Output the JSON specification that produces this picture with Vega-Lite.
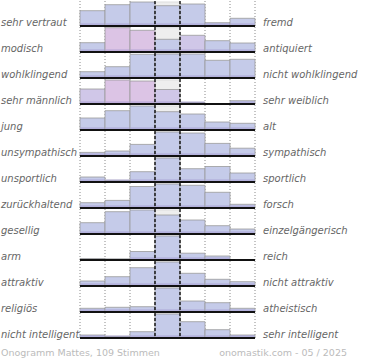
{
  "$schema": "https://vega.github.io/schema/vega-lite/v6.json",
  "padding": {"left": 1, "top": 0, "right": 5, "bottom": 0},
  "background": "white",
  "bounds": "flush",
  "data": {"values": [
      {"r":1,"links":"sehr vertraut","rechts":"fremd","k":1,"n":15.3,"g":"m"},{"r":1,"links":"sehr vertraut","rechts":"fremd","k":2,"n":21.3,"g":"m"},{"r":1,"links":"sehr vertraut","rechts":"fremd","k":3,"n":24,"g":"m"},{"r":1,"links":"sehr vertraut","rechts":"fremd","k":4,"n":20.3,"g":"m"},{"r":1,"links":"sehr vertraut","rechts":"fremd","k":5,"n":22,"g":"m"},{"r":1,"links":"sehr vertraut","rechts":"fremd","k":6,"n":3.3,"g":"m"},{"r":1,"links":"sehr vertraut","rechts":"fremd","k":7,"n":7.7,"g":"m"},
      {"r":2,"links":"modisch","rechts":"antiquiert","k":1,"n":9.3,"g":"m"},{"r":2,"links":"modisch","rechts":"antiquiert","k":2,"n":24.3,"g":"w"},{"r":2,"links":"modisch","rechts":"antiquiert","k":3,"n":21.7,"g":"w"},{"r":2,"links":"modisch","rechts":"antiquiert","k":4,"n":12.7,"g":"m"},{"r":2,"links":"modisch","rechts":"antiquiert","k":5,"n":16.7,"g":"x"},{"r":2,"links":"modisch","rechts":"antiquiert","k":6,"n":11.3,"g":"m"},{"r":2,"links":"modisch","rechts":"antiquiert","k":7,"n":9,"g":"m"},
      {"r":3,"links":"wohlklingend","rechts":"nicht wohlklingend","k":1,"n":6.3,"g":"m"},{"r":3,"links":"wohlklingend","rechts":"nicht wohlklingend","k":2,"n":11.3,"g":"m"},{"r":3,"links":"wohlklingend","rechts":"nicht wohlklingend","k":3,"n":23.7,"g":"m"},{"r":3,"links":"wohlklingend","rechts":"nicht wohlklingend","k":4,"n":24,"g":"m"},{"r":3,"links":"wohlklingend","rechts":"nicht wohlklingend","k":5,"n":24,"g":"m"},{"r":3,"links":"wohlklingend","rechts":"nicht wohlklingend","k":6,"n":17.7,"g":"m"},{"r":3,"links":"wohlklingend","rechts":"nicht wohlklingend","k":7,"n":18.7,"g":"m"},
      {"r":4,"links":"sehr männlich","rechts":"sehr weiblich","k":1,"n":15,"g":"x"},{"r":4,"links":"sehr männlich","rechts":"sehr weiblich","k":2,"n":24,"g":"w"},{"r":4,"links":"sehr männlich","rechts":"sehr weiblich","k":3,"n":23,"g":"w"},{"r":4,"links":"sehr männlich","rechts":"sehr weiblich","k":4,"n":14.5,"g":"x"},{"r":4,"links":"sehr männlich","rechts":"sehr weiblich","k":5,"n":1.6,"g":"m"},{"r":4,"links":"sehr männlich","rechts":"sehr weiblich","k":6,"n":0,"g":"m"},{"r":4,"links":"sehr männlich","rechts":"sehr weiblich","k":7,"n":3.3,"g":"m"},
      {"r":5,"links":"\u00a0jung","rechts":"alt","k":1,"n":12,"g":"m"},{"r":5,"links":"\u00a0jung","rechts":"alt","k":2,"n":19.3,"g":"m"},{"r":5,"links":"\u00a0jung","rechts":"alt","k":3,"n":24,"g":"m"},{"r":5,"links":"\u00a0jung","rechts":"alt","k":4,"n":18.3,"g":"m"},{"r":5,"links":"\u00a0jung","rechts":"alt","k":5,"n":16,"g":"m"},{"r":5,"links":"\u00a0jung","rechts":"alt","k":6,"n":8,"g":"m"},{"r":5,"links":"\u00a0jung","rechts":"alt","k":7,"n":6.7,"g":"m"},
      {"r":6,"links":"unsympathisch","rechts":"sympathisch","k":1,"n":3.6,"g":"m"},{"r":6,"links":"unsympathisch","rechts":"sympathisch","k":2,"n":5,"g":"m"},{"r":6,"links":"unsympathisch","rechts":"sympathisch","k":3,"n":11.6,"g":"m"},{"r":6,"links":"unsympathisch","rechts":"sympathisch","k":4,"n":24,"g":"m"},{"r":6,"links":"unsympathisch","rechts":"sympathisch","k":5,"n":23,"g":"m"},{"r":6,"links":"unsympathisch","rechts":"sympathisch","k":6,"n":12.6,"g":"m"},{"r":6,"links":"unsympathisch","rechts":"sympathisch","k":7,"n":7.8,"g":"m"},
      {"r":7,"links":"unsportlich","rechts":"sportlich","k":1,"n":5,"g":"m"},{"r":7,"links":"unsportlich","rechts":"sportlich","k":2,"n":1.7,"g":"m"},{"r":7,"links":"unsportlich","rechts":"sportlich","k":3,"n":10.3,"g":"m"},{"r":7,"links":"unsportlich","rechts":"sportlich","k":4,"n":24,"g":"m"},{"r":7,"links":"unsportlich","rechts":"sportlich","k":5,"n":13.3,"g":"m"},{"r":7,"links":"unsportlich","rechts":"sportlich","k":6,"n":15.5,"g":"m"},{"r":7,"links":"unsportlich","rechts":"sportlich","k":7,"n":9,"g":"m"},
      {"r":8,"links":"zurückhaltend","rechts":"forsch","k":1,"n":5.3,"g":"m"},{"r":8,"links":"zurückhaltend","rechts":"forsch","k":2,"n":7.6,"g":"m"},{"r":8,"links":"zurückhaltend","rechts":"forsch","k":3,"n":21.5,"g":"m"},{"r":8,"links":"zurückhaltend","rechts":"forsch","k":4,"n":24,"g":"m"},{"r":8,"links":"zurückhaltend","rechts":"forsch","k":5,"n":22.7,"g":"m"},{"r":8,"links":"zurückhaltend","rechts":"forsch","k":6,"n":15.7,"g":"m"},{"r":8,"links":"zurückhaltend","rechts":"forsch","k":7,"n":3.7,"g":"m"},
      {"r":9,"links":"gesellig","rechts":"einzelgängerisch","k":1,"n":11.3,"g":"m"},{"r":9,"links":"gesellig","rechts":"einzelgängerisch","k":2,"n":22.3,"g":"m"},{"r":9,"links":"gesellig","rechts":"einzelgängerisch","k":3,"n":24,"g":"m"},{"r":9,"links":"gesellig","rechts":"einzelgängerisch","k":4,"n":19,"g":"m"},{"r":9,"links":"gesellig","rechts":"einzelgängerisch","k":5,"n":14,"g":"m"},{"r":9,"links":"gesellig","rechts":"einzelgängerisch","k":6,"n":8.3,"g":"m"},{"r":9,"links":"gesellig","rechts":"einzelgängerisch","k":7,"n":5,"g":"m"},
      {"r":10,"links":"arm","rechts":"reich","k":1,"n":1.5,"g":"m"},{"r":10,"links":"arm","rechts":"reich","k":2,"n":1.2,"g":"m"},{"r":10,"links":"arm","rechts":"reich","k":3,"n":8.5,"g":"m"},{"r":10,"links":"arm","rechts":"reich","k":4,"n":24,"g":"m"},{"r":10,"links":"arm","rechts":"reich","k":5,"n":6.8,"g":"m"},{"r":10,"links":"arm","rechts":"reich","k":6,"n":4,"g":"m"},{"r":10,"links":"arm","rechts":"reich","k":7,"n":0,"g":"m"},
      {"r":11,"links":"attraktiv","rechts":"nicht attraktiv","k":1,"n":5,"g":"m"},{"r":11,"links":"attraktiv","rechts":"nicht attraktiv","k":2,"n":9.3,"g":"m"},{"r":11,"links":"attraktiv","rechts":"nicht attraktiv","k":3,"n":18.3,"g":"m"},{"r":11,"links":"attraktiv","rechts":"nicht attraktiv","k":4,"n":24,"g":"m"},{"r":11,"links":"attraktiv","rechts":"nicht attraktiv","k":5,"n":12.7,"g":"m"},{"r":11,"links":"attraktiv","rechts":"nicht attraktiv","k":6,"n":6.7,"g":"m"},{"r":11,"links":"attraktiv","rechts":"nicht attraktiv","k":7,"n":4.3,"g":"m"},
      {"r":12,"links":"religiös","rechts":"atheistisch","k":1,"n":3.7,"g":"m"},{"r":12,"links":"religiös","rechts":"atheistisch","k":2,"n":4.7,"g":"m"},{"r":12,"links":"religiös","rechts":"atheistisch","k":3,"n":5.3,"g":"m"},{"r":12,"links":"religiös","rechts":"atheistisch","k":4,"n":24,"g":"m"},{"r":12,"links":"religiös","rechts":"atheistisch","k":5,"n":11,"g":"m"},{"r":12,"links":"religiös","rechts":"atheistisch","k":6,"n":9.3,"g":"m"},{"r":12,"links":"religiös","rechts":"atheistisch","k":7,"n":3.7,"g":"m"},
      {"r":13,"links":"nicht intelligent","rechts":"sehr intelligent","k":1,"n":3,"g":"m"},{"r":13,"links":"nicht intelligent","rechts":"sehr intelligent","k":2,"n":1.7,"g":"m"},{"r":13,"links":"nicht intelligent","rechts":"sehr intelligent","k":3,"n":6.3,"g":"m"},{"r":13,"links":"nicht intelligent","rechts":"sehr intelligent","k":4,"n":24,"g":"m"},{"r":13,"links":"nicht intelligent","rechts":"sehr intelligent","k":5,"n":16.3,"g":"m"},{"r":13,"links":"nicht intelligent","rechts":"sehr intelligent","k":6,"n":8.3,"g":"m"},{"r":13,"links":"nicht intelligent","rechts":"sehr intelligent","k":7,"n":3,"g":"m"}
  ]},
  "facet": {
    "row": {
      "field": "links", "type": "nominal", "title": null,
      "sort": {"field": "r", "op": "min"},
      "header": {"labels": false}
    }
  },
  "spacing": {"row": 0},
  "spec": {
    "width": 175,
    "height": 26,
    "layer": [
      {
        "transform": [{"filter": "datum.k != 4 && datum.k != 5"}],
        "mark": {"type": "rule", "color": "#8a8a8a", "strokeDash": [1, 2], "strokeWidth": 1},
        "encoding": {"x": {"field": "k", "type": "ordinal", "bandPosition": 0, "scale": {"type": "band", "domain": [1,2,3,4,5,6,7], "paddingInner": 0, "paddingOuter": 0}, "axis": null}}
      },
      {
        "transform": [{"filter": "datum.k == 7"}],
        "mark": {"type": "rule", "color": "#8a8a8a", "strokeDash": [1, 2], "strokeWidth": 1},
        "encoding": {"x": {"field": "k", "type": "ordinal", "bandPosition": 1}}
      },
      {
        "transform": [
          {"joinaggregate": [{"op": "max", "field": "n", "as": "nmax"}], "groupby": ["r"]},
          {"filter": "datum.k == 4"}
        ],
        "mark": {"type": "bar", "color": "#eeeeee", "stroke": "#dddddd", "strokeWidth": 1},
        "encoding": {
          "x": {"field": "k", "type": "ordinal"},
          "y": {"field": "nmax", "type": "quantitative", "scale": {"domain": [-1, 25], "nice": false, "zero": false}, "axis": null}
        }
      },
      {
        "mark": {"type": "bar", "stroke": "#9a9a9a", "strokeWidth": 0.8},
        "encoding": {
          "x": {"field": "k", "type": "ordinal"},
          "y": {"field": "n", "type": "quantitative", "scale": {"domain": [-1, 25], "nice": false, "zero": false}, "axis": null},
          "color": {"field": "g", "type": "nominal", "scale": {"domain": ["m", "w", "x"], "range": ["#c5cbe9", "#dcc4e5", "#d0c7e8"]}, "legend": null}
        }
      },
      {
        "transform": [{"filter": "datum.n > 1.5"}],
        "mark": {"type": "tick", "thickness": 3, "size": 24, "color": "#9d92cc", "opacity": 0.45},
        "encoding": {
          "x": {"field": "k", "type": "ordinal"},
          "y": {"datum": 1.2, "type": "quantitative", "scale": {"domain": [-1, 25], "nice": false, "zero": false}}
        }
      },
      {
        "transform": [{"filter": "datum.k == 4 || datum.k == 5"}],
        "mark": {"type": "rule", "color": "#000000", "strokeDash": [3, 2], "strokeWidth": 1.3},
        "encoding": {"x": {"field": "k", "type": "ordinal", "bandPosition": 0}}
      },
      {
        "mark": {"type": "rule", "color": "#111111", "strokeWidth": 2},
        "encoding": {"y": {"datum": 0, "type": "quantitative"}}
      },
      {
        "transform": [{"filter": "datum.k == 1"}],
        "mark": {"type": "text", "align": "left", "baseline": "alphabetic", "dx": -79, "dy": -0.5, "font": "DejaVu Sans", "fontSize": 10, "fontStyle": "italic", "color": "#666666"},
        "encoding": {
          "x": {"field": "k", "type": "ordinal", "bandPosition": 0},
          "y": {"datum": 0, "type": "quantitative"},
          "text": {"field": "links"}
        }
      },
      {
        "transform": [{"filter": "datum.k == 7"}],
        "mark": {"type": "text", "align": "left", "baseline": "alphabetic", "dx": 8, "dy": -0.5, "font": "DejaVu Sans", "fontSize": 10, "fontStyle": "italic", "color": "#666666"},
        "encoding": {
          "x": {"field": "k", "type": "ordinal", "bandPosition": 1},
          "y": {"datum": 0, "type": "quantitative"},
          "text": {"field": "rechts"}
        }
      },
      {
        "transform": [{"filter": "datum.k == 1 && datum.r == 13"}],
        "mark": {"type": "text", "align": "left", "baseline": "alphabetic", "dx": -79, "dy": 18, "font": "DejaVu Sans", "fontSize": 9.5, "color": "#bbbbbb"},
        "encoding": {
          "x": {"field": "k", "type": "ordinal", "bandPosition": 0},
          "y": {"datum": 0, "type": "quantitative"},
          "text": {"value": "Onogramm Mattes, 109 Stimmen"}
        }
      },
      {
        "transform": [{"filter": "datum.k == 7 && datum.r == 13"}],
        "mark": {"type": "text", "align": "right", "baseline": "alphabetic", "dx": 92, "dy": 18, "font": "DejaVu Sans", "fontSize": 9.5, "color": "#bbbbbb"},
        "encoding": {
          "x": {"field": "k", "type": "ordinal", "bandPosition": 1},
          "y": {"datum": 0, "type": "quantitative"},
          "text": {"value": "onomastik.com - 05 / 2025"}
        }
      }
    ]
  },
  "config": {"view": {"stroke": null}}
}
